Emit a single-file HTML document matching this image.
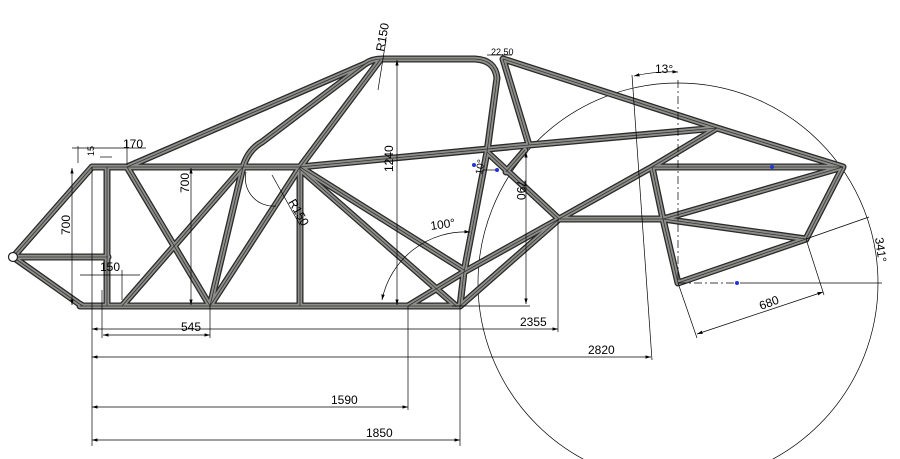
<!DOCTYPE html>
<html><head><meta charset="utf-8"><style>
html,body{margin:0;padding:0;background:#fff;width:900px;height:459px;overflow:hidden;}
svg{display:block;}
text{font-family:"Liberation Sans",sans-serif;font-size:12px;fill:#000;}
.t1{stroke:#2a2a2a;stroke-width:7;stroke-linecap:round;fill:none;}
.t2{stroke:#8e8e8a;stroke-width:4.4;stroke-linecap:round;fill:none;}
.t3{stroke:#333;stroke-width:0.8;fill:none;}
.d{stroke:#000;stroke-width:0.7;fill:none;}
.dd{stroke:#000;stroke-width:0.7;fill:none;stroke-dasharray:8 3 2 3;}
</style></head><body>
<svg width="900" height="459" viewBox="0 0 900 459" xmlns="http://www.w3.org/2000/svg">
<defs>
<marker id="a" viewBox="0 0 10 6" refX="10" refY="3" markerWidth="8" markerHeight="5" orient="auto-start-reverse"><path d="M0,0 L10,3 L0,6 z" fill="#000"/></marker>
<path id="p" fill="none" d="
M13,257 L92,167 M13,257 L78,303 L83,306 M13,257 L108,257 M107,167 L107,306
M92,167 L300,167 L529,145 L717,128 M80,306 L460,306
M127,167 L210,306 M122,306 L243,167
M210,306 L243,167 Q248,150 262,142 L365,64 M210,306 L300,167 L380,60
M300,167 L300,306
M127,167 L365,64 Q372,59 382,59 L475,59 Q495,60 497,78 L487,152 L464,272 L460,306
M503,59 L717,128 L843,167 M503,59 L529,145 M525,150 L506,172
M487,152 L559,219 M300,167 L464,270 M300,169 L456,306
M408,306 L464,272 L559,219 M460,306 L559,219
M559,219 L652,167 L717,128 M559,219 L663,219 M652,167 L843,167
M652,167 L663,219 L678,283 M663,219 L843,167 M663,219 L806,239
M843,167 L806,239 L678,283"/>
</defs>
<circle cx="678" cy="283" r="200" class="d"/>
<use href="#p" class="t1"/>
<use href="#p" class="t2"/>
<use href="#p" class="t3"/>
<circle cx="13" cy="257" r="4.5" fill="#fff" stroke="#222" stroke-width="1.2"/>
<g class="d">
<line x1="92" y1="167" x2="92" y2="446"/>
<line x1="102" y1="290" x2="102" y2="338"/>
<line x1="210" y1="306" x2="210" y2="338"/>
<line x1="408" y1="306" x2="408" y2="410"/>
<line x1="460" y1="306" x2="460" y2="446"/>
<line x1="558" y1="219" x2="558" y2="332"/>
<line x1="632" y1="75" x2="652" y2="360"/>
<line x1="452" y1="306" x2="530" y2="306"/>
<line x1="122" y1="270" x2="122" y2="300"/>
<line x1="127" y1="140" x2="127" y2="165"/>
<line x1="78" y1="146" x2="78" y2="163"/>
</g>
<g class="d" marker-start="url(#a)" marker-end="url(#a)">
<line x1="92" y1="329" x2="558" y2="329"/>
<line x1="92" y1="357" x2="651" y2="357"/>
<line x1="92" y1="407" x2="408" y2="407"/>
<line x1="92" y1="440" x2="460" y2="440"/>
<line x1="103" y1="335" x2="210" y2="335"/>
<line x1="72" y1="168" x2="72" y2="305"/>
<line x1="191" y1="168" x2="191" y2="305"/>
<line x1="397" y1="60" x2="397" y2="305"/>
<line x1="526" y1="152" x2="526" y2="304"/>
<line x1="697" y1="334" x2="823" y2="292"/>
</g>
<line class="d" x1="72" y1="148" x2="146" y2="148"/>
<line class="d" x1="80" y1="275" x2="140" y2="275"/>
<line class="d" x1="100" y1="157" x2="112" y2="157"/>
<line class="d" x1="678" y1="283" x2="697" y2="338"/>
<line class="d" x1="806" y1="239" x2="824" y2="295"/>
<line class="d" x1="806" y1="239" x2="869" y2="217"/>
<line class="d" x1="740" y1="283" x2="882" y2="283"/>
<line class="dd" x1="678" y1="283" x2="740" y2="283"/>
<line class="dd" x1="678" y1="80" x2="678" y2="283"/>
<path class="d" d="M382,300 A85,85 0 0 1 470,232" marker-start="url(#a)" marker-end="url(#a)"/>
<path class="d" d="M634,76 Q656,71 678,72" marker-start="url(#a)" marker-end="url(#a)"/>
<path class="d" d="M246,172 A28,28 0 0 0 276,206"/>
<line class="d" x1="272" y1="175" x2="300" y2="225"/>
<line class="d" x1="378" y1="90" x2="386" y2="40"/>
<line class="d" x1="487" y1="55" x2="512" y2="55"/>
<line class="d" x1="483" y1="170" x2="495" y2="170"/>
<circle cx="474" cy="165" r="2" fill="#2233dd"/>
<circle cx="497" cy="170" r="2" fill="#2233dd"/>
<circle cx="772" cy="167" r="2" fill="#2233dd"/>
<circle cx="737" cy="283" r="2" fill="#2233dd"/>
<text x="123" y="148">170</text>
<text x="100" y="271">150</text>
<text x="181" y="331">545</text>
<text x="520" y="326">2355</text>
<text x="588" y="354">2820</text>
<text x="331" y="404">1590</text>
<text x="366" y="437">1850</text>
<text x="431" y="230" transform="rotate(-8 431 230)">100°</text>
<text x="655" y="73">13°</text>
<text transform="translate(70,235) rotate(-90)">700</text>
<text transform="translate(189,193) rotate(-90)">700</text>
<text transform="translate(393,172) rotate(-90)">1240</text>
<text transform="translate(517,180) rotate(90)">790</text>
<text transform="translate(384,52) rotate(-80)">R150</text>
<text transform="translate(288,202) rotate(60)">R150</text>
<text transform="translate(875,238) rotate(82)">341°</text>
<text transform="translate(761,310) rotate(-20)">680</text>
<text x="491" y="55" style="font-size:9px">22.50</text>
<text transform="translate(482,175) rotate(-80)" style="font-size:10px">10°</text>
<text transform="translate(94,156) rotate(-90)" style="font-size:9px">15</text>
</svg>
</body></html>
